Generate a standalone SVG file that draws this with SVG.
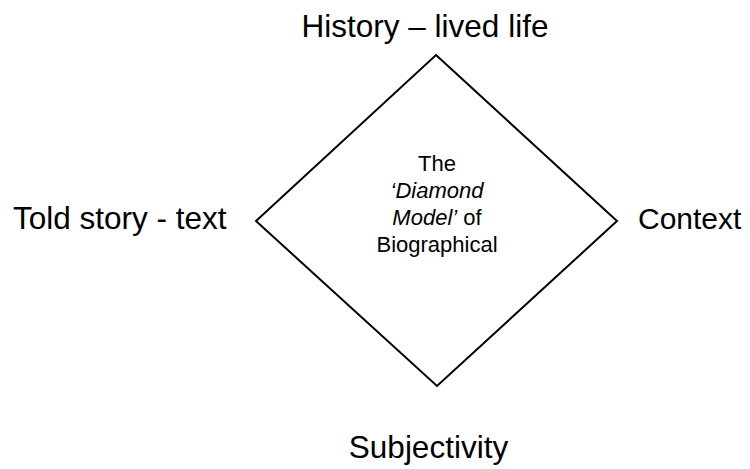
<svg xmlns="http://www.w3.org/2000/svg" width="750" height="469" viewBox="0 0 750 469">
  <style>
    .label { font-family: "Liberation Sans", Arial, sans-serif; font-size: 31.5px; fill: #000; }
    .inner { font-family: "Liberation Sans", Arial, sans-serif; font-size: 22px; fill: #000; text-anchor: middle; }
    .shape { fill: #fff; stroke: #000; stroke-width: 2; }
  </style>
  <rect width="750" height="469" fill="#fff"/>
  <g id="diamond">
    <polygon class="shape" points="436,55 617,221 437,386 256,221"/>
    <text class="inner" x="437" y="171">The</text>
    <text class="inner" x="437" y="198" font-style="italic">‘Diamond</text>
    <text class="inner" x="437" y="225"><tspan font-style="italic">Model’</tspan> of</text>
    <text class="inner" x="437" y="252">Biographical</text>
  </g>
  <g id="top-label">
    <text class="label" x="425" y="37" text-anchor="middle">History – lived life</text>
  </g>
  <g id="left-label">
    <text class="label" x="13" y="229">Told story - text</text>
  </g>
  <g id="right-label">
    <text class="label" x="638" y="229" style="font-size:30px">Context</text>
  </g>
  <g id="bottom-label">
    <text class="label" x="428.5" y="458" text-anchor="middle">Subjectivity</text>
  </g>
</svg>
